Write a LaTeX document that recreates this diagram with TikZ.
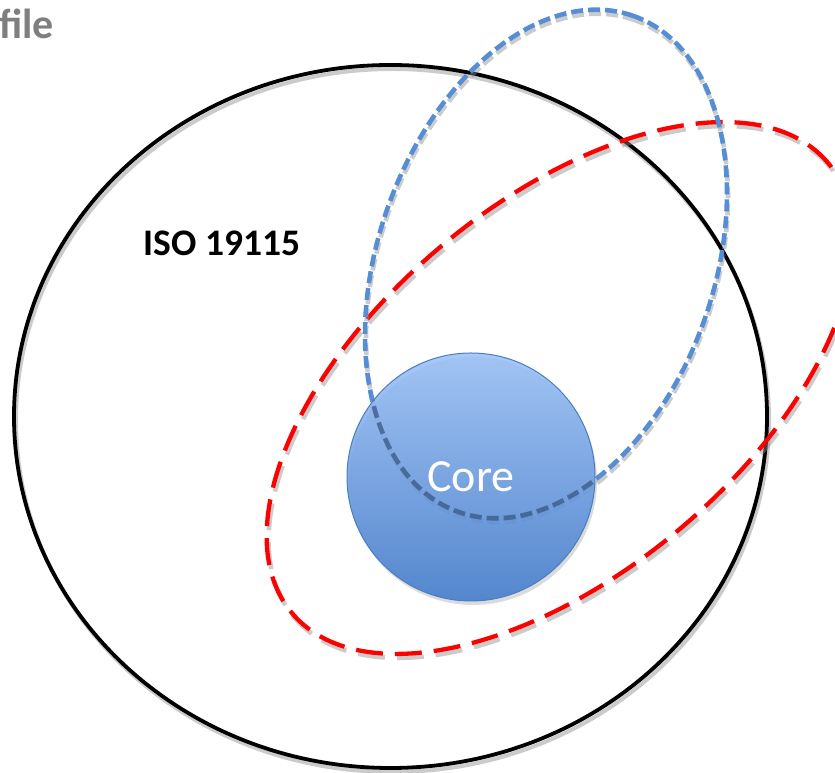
\documentclass[tikz,border=0pt]{standalone}
\usepackage{fontspec}
\setmainfont{Carlito}
\usetikzlibrary{calc}
\definecolor{blueline}{RGB}{85,142,213}
\definecolor{bluedark}{RGB}{62,92,135}
\definecolor{redline}{RGB}{255,0,0}
\definecolor{coretop}{RGB}{152,192,248}
\definecolor{corebot}{RGB}{60,120,204}
\definecolor{coreedge}{RGB}{72,125,192}
\definecolor{filegray}{RGB}{127,127,127}
\tikzset{
  shadowline/.style={draw=black!45, opacity=0.45},
  bigcircle/.style={draw=black, line width=3.8pt},
  redell/.style={draw=redline, line width=4.3pt, dash pattern=on 27pt off 12pt},
  blueell/.style={draw=blueline, line width=4.6pt, dash pattern=on 12pt off 5pt},
  corestyle/.style={circle, minimum size=248pt, inner sep=0pt, top color=coretop, bottom color=corebot, draw=coreedge, line width=1pt, fill opacity=0.85},
  labeltext/.style={font=\fontsize{37.5}{42}\selectfont\bfseries, text=black},
}
\begin{document}
\begin{tikzpicture}[x=1pt,y=1pt]
\useasboundingbox (0,0) rectangle (835,773);
% black circle
\coordinate (bc) at (390.5,356.5);
\draw[shadowline, line width=4pt] ($(bc)+(2,-4)$) ellipse [x radius=376.5, y radius=351.5];
\draw[bigcircle] (bc) ellipse [x radius=376.5, y radius=351.5];
% red ellipse
\coordinate (rc) at (560,385);
\draw[shadowline, line width=4.5pt, dash pattern=on 27pt off 12pt] ($(rc)+(2,-4)$) ellipse [x radius=350, y radius=185, rotate=40];
\draw[redell] (rc) ellipse [x radius=350, y radius=185, rotate=40];
% blue ellipse
\coordinate (bl) at (546,509);
\draw[shadowline, line width=4.6pt, dash pattern=on 12pt off 5pt] ($(bl)+(1,-4)$) ellipse [x radius=263, y radius=168, rotate=70.6];
\draw[blueell] (bl) ellipse [x radius=263, y radius=168, rotate=70.6];
% core
\fill[black!40, opacity=0.35] (473,292) circle (124);
\node[corestyle] (core) at (471,296) {};
\begin{scope}
\clip (core.center) circle (123.5);
\draw[draw=bluedark, line width=4.6pt, dash pattern=on 12pt off 5pt, opacity=0.75] (bl) ellipse [x radius=263, y radius=168, rotate=70.6];
\end{scope}
\node[font=\fontsize{46}{50}\selectfont, text=white] (coretext) at (core.center) {Core};
% labels
\node[labeltext] (iso) at (222,530) {ISO 19115};
\node[anchor=west, inner sep=0pt, font=\fontsize{42}{46}\selectfont\bfseries, text=filegray] (file) at (-1,749) {file};
\end{tikzpicture}
\end{document}
